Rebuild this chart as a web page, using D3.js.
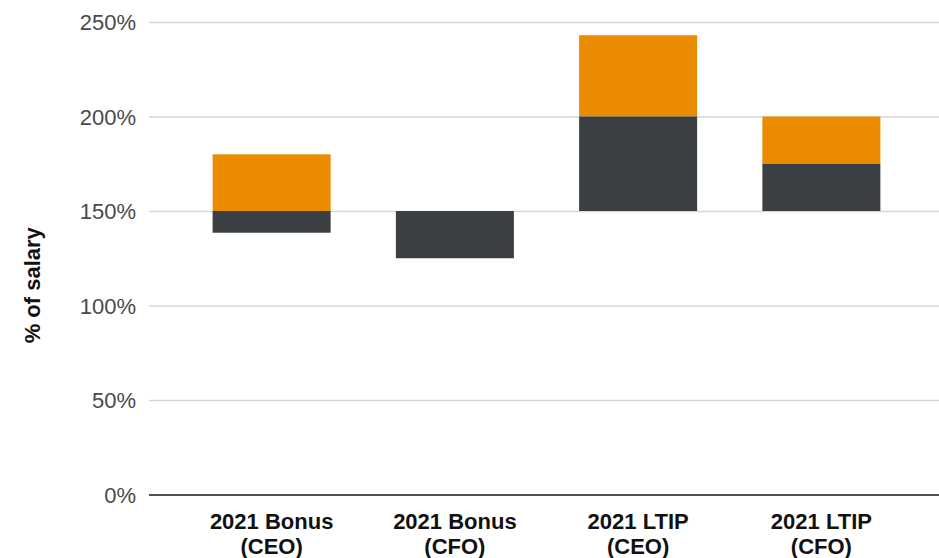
<!DOCTYPE html>
<html>
<head>
<meta charset="utf-8">
<script src="https://cdn.jsdelivr.net/npm/d3@7"></script>
<style>
  html, body { margin: 0; padding: 0; background: #fff; }
  svg { display: block; }
  text { font-family: "Liberation Sans", Arial, sans-serif; }
</style>
</head>
<body>
<svg id="chart" width="939" height="558"></svg>
<script>
// Incentive opportunity as % of salary
const categories = ["2021 Bonus|(CEO)", "2021 Bonus|(CFO)", "2021 LTIP|(CEO)", "2021 LTIP|(CFO)"];
const lowerStart = [138.5, 125, 150, 150];   // bottom of dark segment
const lowerEnd   = [150, 150, 200, 175];     // top of dark / bottom of orange segment
const upperEnd   = [180, 150, 243, 200];     // top of orange segment
const yTicks = [0, 50, 100, 150, 200, 250];
const yLabel = "% of salary";

const colors = { lower: "#3c3f42", upper: "#ea8b00" };

const svg = d3.select("#chart");
const plot = { left: 149, right: 939, top: 22, bottom: 494.5 };

const x = d3.scaleBand()
  .domain(categories)
  .range([180, 913])
  .paddingInner(0.356)
  .paddingOuter(0.178);

const y = d3.scaleLinear()
  .domain([0, 250])
  .range([plot.bottom, plot.top]);

// Gridlines and tick labels
const yAxis = d3.axisLeft(y)
  .tickValues(yTicks)
  .tickFormat(d => d + "%")
  .tickSize(-(plot.right - plot.left))
  .tickPadding(13);

const gy = svg.append("g")
  .attr("transform", `translate(${plot.left},0)`)
  .call(yAxis);
gy.select(".domain").remove();
gy.selectAll(".tick line")
  .attr("stroke", d => d === 0 ? "#505050" : "#d6d6d6")
  .attr("stroke-width", d => d === 0 ? 2.2 : 1.4);
gy.selectAll(".tick text")
  .attr("fill", "#4a4a4a")
  .attr("font-size", 22)
  .attr("dy", "0.36em");

// Bars: dark lower segment, orange upper segment
const rows = categories.map((c, i) => ({ c, a: lowerStart[i], b: lowerEnd[i], t: upperEnd[i] }));

svg.append("g").selectAll("rect")
  .data(rows.filter(d => d.t > d.b))
  .join("rect")
  .attr("x", d => x(d.c))
  .attr("width", x.bandwidth())
  .attr("y", d => y(d.t))
  .attr("height", d => y(d.b) - y(d.t))
  .attr("fill", colors.upper);

svg.append("g").selectAll("rect")
  .data(rows)
  .join("rect")
  .attr("x", d => x(d.c))
  .attr("width", x.bandwidth())
  .attr("y", d => y(d.b))
  .attr("height", d => y(d.a) - y(d.b))
  .attr("fill", colors.lower);

// Category labels (two lines)
const gx = svg.append("g");
categories.forEach(c => {
  const lines = c.split("|");
  const t = gx.append("text")
    .attr("text-anchor", "middle")
    .attr("font-size", 22)
    .attr("font-weight", "bold")
    .attr("fill", "#111");
  lines.forEach((ln, j) => {
    t.append("tspan")
      .attr("x", x(c) + x.bandwidth() / 2)
      .attr("y", 529 + j * 25)
      .text(ln);
  });
});

// Y axis title
svg.append("text")
  .attr("transform", `translate(40,${(plot.top + plot.bottom) / 2 + 27}) rotate(-90)`)
  .attr("text-anchor", "middle")
  .attr("font-size", 22)
  .attr("font-weight", "bold")
  .attr("fill", "#111")
  .text(yLabel);
</script>
</body>
</html>
